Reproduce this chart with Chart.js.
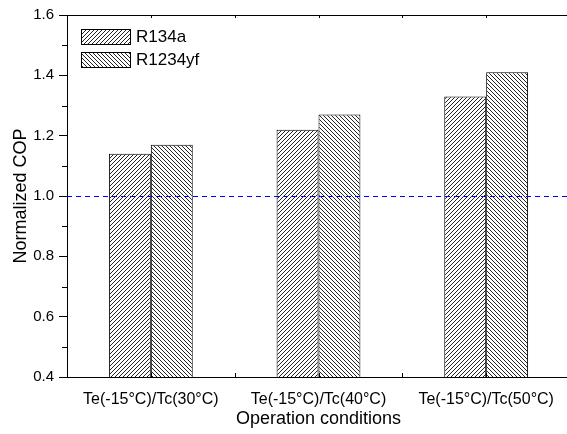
<!DOCTYPE html>
<html>
<head>
<meta charset="utf-8">
<script src="https://cdn.jsdelivr.net/npm/chart.js@4/dist/chart.umd.min.js"></script>
<style>
  html, body { margin: 0; padding: 0; background: #fff; overflow: hidden; }
  #wrap { width: 571px; height: 434px; }
</style>
</head>
<body>
<div id="wrap"><canvas id="chartCOP" width="571" height="434"></canvas></div>
<script>
const categories = ['Te(-15°C)/Tc(30°C)', 'Te(-15°C)/Tc(40°C)', 'Te(-15°C)/Tc(50°C)'];
const seriesNames = ['R134a', 'R1234yf'];
const r134a = [1.14, 1.22, 1.33];
const r1234yf = [1.17, 1.27, 1.41];
const baseline = 1.0;
const yMin = 0.4, yMax = 1.6, yStep = 0.2;

const fontFamily = '"Liberation Sans", Arial, sans-serif';

// hatch fill: '/' or '\'
function hatch(dir) {
    const c = document.createElement('canvas');
    c.width = 4; c.height = 4;
    const g = c.getContext('2d');
    g.fillStyle = '#fff';
    g.fillRect(0, 0, 4, 4);
    g.fillStyle = '#222';
    for (let i = 0; i < 4; i++) {
        if (dir === '/') g.fillRect(i, 3 - i, 1, 1);
        else g.fillRect(i, i, 1, 1);
    }
    return g.createPattern(c, 'repeat');
}

const fills = [hatch('/'), hatch('\\')];

const decorPlugin = {
    id: 'decor',
    afterDatasetsDraw(chart) {
        const { ctx, chartArea, scales } = chart;
        const y = scales.y;
        ctx.save();
        // dashed reference line
        const yb = Math.round(y.getPixelForValue(baseline)) + 0.5;
        ctx.strokeStyle = '#0000ff';
        ctx.lineWidth = 1;
        ctx.setLineDash([5, 4]);
        ctx.beginPath();
        ctx.moveTo(chartArea.left, yb);
        ctx.lineTo(chartArea.right, yb);
        ctx.stroke();
        ctx.setLineDash([]);

        // top axis line
        ctx.strokeStyle = '#000';
        ctx.beginPath();
        ctx.moveTo(chartArea.left, Math.round(chartArea.top) + 0.5);
        ctx.lineTo(chartArea.right, Math.round(chartArea.top) + 0.5);
        ctx.stroke();

        // minor y ticks (outward)
        ctx.beginPath();
        for (let v = yMin + yStep / 2; v < yMax; v += yStep) {
            const py = Math.round(y.getPixelForValue(v)) + 0.5;
            ctx.moveTo(chartArea.left - 5, py);
            ctx.lineTo(chartArea.left, py);
        }
        // x ticks (inward) at boundaries and centers, bottom and top
        const n = categories.length;
        const w = (chartArea.right - chartArea.left) / n;
        for (let i = 0; i <= 2 * n; i++) {
            const px = Math.round(chartArea.left + i * w / 2) + 0.5;
            ctx.moveTo(px, chartArea.bottom);
            ctx.lineTo(px, chartArea.bottom - 4);
            ctx.moveTo(px, chartArea.top);
            ctx.lineTo(px, chartArea.top + 3);
        }
        ctx.stroke();

        // legend
        const ds = chart.data.datasets;
        ctx.font = '17px ' + fontFamily;
        ctx.textBaseline = 'middle';
        ds.forEach((d, i) => {
            const bx = 81, by = 29 + i * 23, bw = 49, bh = 15;
            ctx.fillStyle = d.backgroundColor;
            ctx.fillRect(bx, by, bw, bh);
            ctx.strokeStyle = '#000';
            ctx.strokeRect(bx + 0.5, by + 0.5, bw, bh);
            ctx.fillStyle = '#000';
            ctx.fillText(d.label, 136, by + bh / 2 + 1);
        });
        ctx.restore();
    }
};

new Chart(document.getElementById('chartCOP'), {
    type: 'bar',
    data: {
        labels: categories,
        datasets: [
            { label: seriesNames[0], data: r134a, backgroundColor: fills[0], borderColor: '#000', borderWidth: 1 },
            { label: seriesNames[1], data: r1234yf, backgroundColor: fills[1], borderColor: '#000', borderWidth: 1 }
        ]
    },
    options: {
        responsive: false,
        animation: false,
        events: [],
        layout: { padding: { top: 15, right: 1, left: 0, bottom: 0 } },
        datasets: { bar: { categoryPercentage: 0.5, barPercentage: 1.0 } },
        plugins: {
            legend: { display: false },
            tooltip: { enabled: false }
        },
        scales: {
            x: {
                afterFit: s => { s.height = 57; },
                grid: { display: false },
                border: { display: true, color: '#000', width: 1 },
                ticks: {
                    color: '#000',
                    maxRotation: 0,
                    padding: 5,
                    font: { family: fontFamily, size: 16 }
                },
                title: {
                    display: true,
                    text: 'Operation conditions',
                    color: '#000',
                    padding: { top: 0, bottom: 4 },
                    font: { family: fontFamily, size: 18 }
                }
            },
            y: {
                min: yMin,
                max: yMax,
                afterFit: s => { s.width = 67; },
                grid: { drawOnChartArea: false, drawTicks: true, tickLength: 8, color: '#000' },
                border: { display: true, color: '#000', width: 1 },
                ticks: {
                    stepSize: yStep,
                    color: '#000',
                    padding: 5,
                    font: { family: fontFamily, size: 15 },
                    callback: v => Number(v).toFixed(1)
                },
                title: {
                    display: true,
                    text: 'Normalized COP',
                    color: '#000',
                    padding: { top: 10, bottom: 0 },
                    font: { family: fontFamily, size: 18 }
                }
            }
        }
    },
    plugins: [decorPlugin]
});
</script>
</body>
</html>
